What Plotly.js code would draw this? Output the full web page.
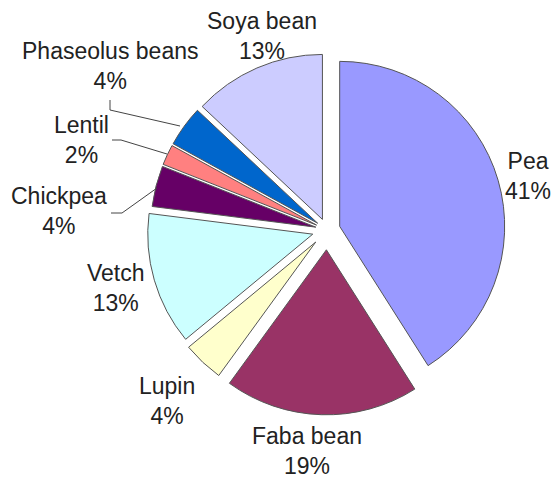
<!DOCTYPE html>
<html>
<head>
<meta charset="utf-8">
<script src="https://cdn.plot.ly/plotly-3.0.1.min.js"></script>
<style>html,body{margin:0;padding:0;background:#fff;}#chart{width:556px;height:479px;}</style>
</head>
<body>
<div id="chart"></div>
<script>
const crops = ["Pea", "Faba bean", "Lupin", "Vetch", "Chickpea", "Lentil", "Phaseolus beans", "Soya bean"];
const shares = [41, 19, 4, 13, 4, 2, 4, 13];
const sliceColors = ["#9999FF", "#993366", "#FFFFCC", "#CCFFFF", "#660066", "#FF8080", "#0066CC", "#CCCCFF"];
const pulls = [0.08, 0.12, 0.10, 0.09, 0.07, 0.07, 0.07, 0.07];

// label placement (pixel centres of each two-line label)
const labelPos = [[528, 176], [307, 451], [167, 401], [116, 288], [59, 211], [81, 140], [110, 66], [262, 36]];
// leader lines (pixel paths) for the three labels that need them
const leaders = {
  "Phaseolus beans": [[110, 100], [110, 110], [180, 126]],
  "Lentil": [[112, 140], [121, 140], [167, 154]],
  "Chickpea": [[111, 213], [122, 213], [157, 188]]
};

const W = 556, H = 479;
const fx = x => x / W;
const fy = y => 1 - y / H;

const annotations = crops.map((c, i) => ({
  xref: "paper", yref: "paper",
  x: fx(labelPos[i][0]), y: fy(labelPos[i][1]),
  xanchor: "center", yanchor: "middle",
  text: c + "<br>" + shares[i] + "%",
  showarrow: false,
  align: "center",
  font: {family: "Liberation Sans, Arial, sans-serif", size: 23, color: "#222222"}
}));

const shapes = Object.keys(leaders).map(k => ({
  type: "path",
  xref: "paper", yref: "paper",
  path: leaders[k].map((p, j) => (j ? "L" : "M") + fx(p[0]) + "," + fy(p[1])).join(" "),
  line: {color: "#444444", width: 1}
}));

const trace = {
  type: "pie",
  labels: crops,
  values: shares,
  sort: false,
  direction: "clockwise",
  rotation: 0,
  pull: pulls,
  marker: {colors: sliceColors, line: {color: "#555555", width: 1}},
  textinfo: "none",
  hoverinfo: "label+percent",
  showlegend: false,
  automargin: false,
  domain: {x: [0.2558, 0.9205], y: [0.134, 0.9056]}
};

const layout = {
  width: W,
  height: H,
  margin: {l: 0, r: 0, t: 0, b: 0},
  paper_bgcolor: "#ffffff",
  showlegend: false,
  annotations: annotations,
  shapes: shapes,
  font: {family: "Liberation Sans, Arial, sans-serif", size: 23, color: "#222222"}
};

Plotly.newPlot("chart", [trace], layout, {displayModeBar: false, staticPlot: true});
</script>
</body>
</html>
